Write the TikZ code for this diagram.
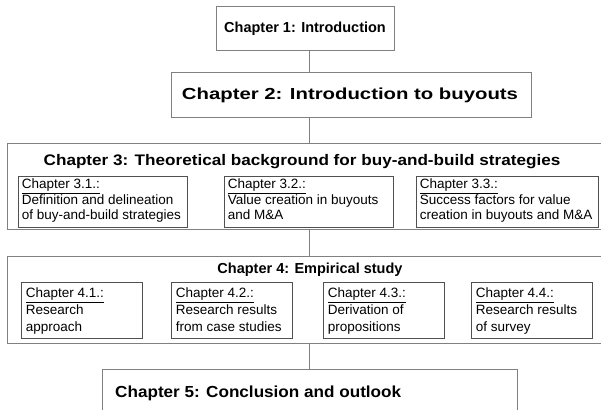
\documentclass[tikz,border=0pt]{standalone}
\usepackage{fontspec}
\setmainfont{Liberation Sans}
\usetikzlibrary{fit}
\definecolor{boxgray}{HTML}{808080}
\definecolor{subgray}{HTML}{505050}
\begin{document}
\begin{tikzpicture}[x=1pt,y=-1pt,
  box/.style={draw=boxgray, line width=1pt, inner sep=0pt},
  subbox/.style={draw=subgray, line width=0.8pt, inner sep=0pt},
  title/.style={font=\bfseries\fontsize{14.5}{17}\selectfont, inner sep=0pt},
  titlem/.style={font=\bfseries\fontsize{15.3}{18}\selectfont, inner sep=0pt},
  titleb/.style={font=\bfseries\fontsize{16}{19}\selectfont, inner sep=0pt},
  subtxt/.style={font=\fontsize{13.5}{15.5}\selectfont, align=left, anchor=north west, inner sep=0pt},
  subtxtb/.style={font=\fontsize{13.5}{17}\selectfont, align=left, anchor=north west, inner sep=0pt},
  link/.style={draw=boxgray, line width=1pt}]
\useasboundingbox (0,0) rectangle (601,409);
\clip (0,0) rectangle (601,409);
\fill[white] (0,0) rectangle (601,409);
\coordinate (spine) at (309,0);

% Chapter 1
\node[box, fit={(216,7) (394,51)}] (c1) {};
\node[title] (t1) at (c1.center) {Chapter 1: Introduction};
% Chapter 2
\node[box, fit={(171,73) (531,117)}] (c2) {};
\node[titleb] (t2) at (350,95) {\scalebox{1.27}[1]{Chapter 2: Introduction to buyouts}};
% Chapter 3
\node[box, fit={(7,143) (605,229)}] (c3) {};
\node[titlem] (t3) at (302,162) {\scalebox{1.12}[1]{Chapter 3: Theoretical background for buy-and-build strategies}};
\node[subbox, fit={(18,176) (187,227)}] (c31) {};
\node[subbox, fit={(224,176) (393,227)}] (c32) {};
\node[subbox, fit={(416,176) (598,227)}] (c33) {};
\node[subtxt] (t31) at ([shift={(4,3)}]c31.north west) {\underline{Chapter 3.1.:}\\Definition and delineation\\of buy-and-build strategies};
\node[subtxt] (t32) at ([shift={(4,3)}]c32.north west) {\underline{Chapter 3.2.:}\\Value creation in buyouts\\and M\&A};
\node[subtxt] (t33) at ([shift={(4,3)}]c33.north west) {\underline{Chapter 3.3.:}\\Success factors for value\\creation in buyouts and M\&A};
% Chapter 4
\node[box, fit={(7,256) (605,343)}] (c4) {};
\node[title] (t4) at (310,270) {Chapter 4: Empirical study};
\node[subbox, fit={(21,282) (142,338)}] (c41) {};
\node[subbox, fit={(171,282) (292,338)}] (c42) {};
\node[subbox, fit={(323,282) (444,338)}] (c43) {};
\node[subbox, fit={(471,282) (592,338)}] (c44) {};
\node[subtxtb] (t41) at ([shift={(5,6)}]c41.north west) {\underline{Chapter 4.1.:}\\Research\\approach};
\node[subtxtb] (t42) at ([shift={(5,6)}]c42.north west) {\underline{Chapter 4.2.:}\\Research results\\from case studies};
\node[subtxtb] (t43) at ([shift={(5,6)}]c43.north west) {\underline{Chapter 4.3.:}\\Derivation of\\propositions};
\node[subtxtb] (t44) at ([shift={(5,6)}]c44.north west) {\underline{Chapter 4.4.:}\\Research results\\of survey};
% Chapter 5
\node[box, fit={(102,369) (517,420)}] (c5) {};
\node[titleb, anchor=west] (t5) at (115,393) {\scalebox{1.07}[1]{Chapter 5: Conclusion and outlook}};

% connectors
\draw[link] (c1.south -| spine) -- (c2.north -| spine);
\draw[link] (c2.south -| spine) -- (c3.north -| spine);
\draw[link] (c3.south -| spine) -- (c4.north -| spine);
\draw[link] (c4.south -| spine) -- (c5.north -| spine);
\end{tikzpicture}
\end{document}
